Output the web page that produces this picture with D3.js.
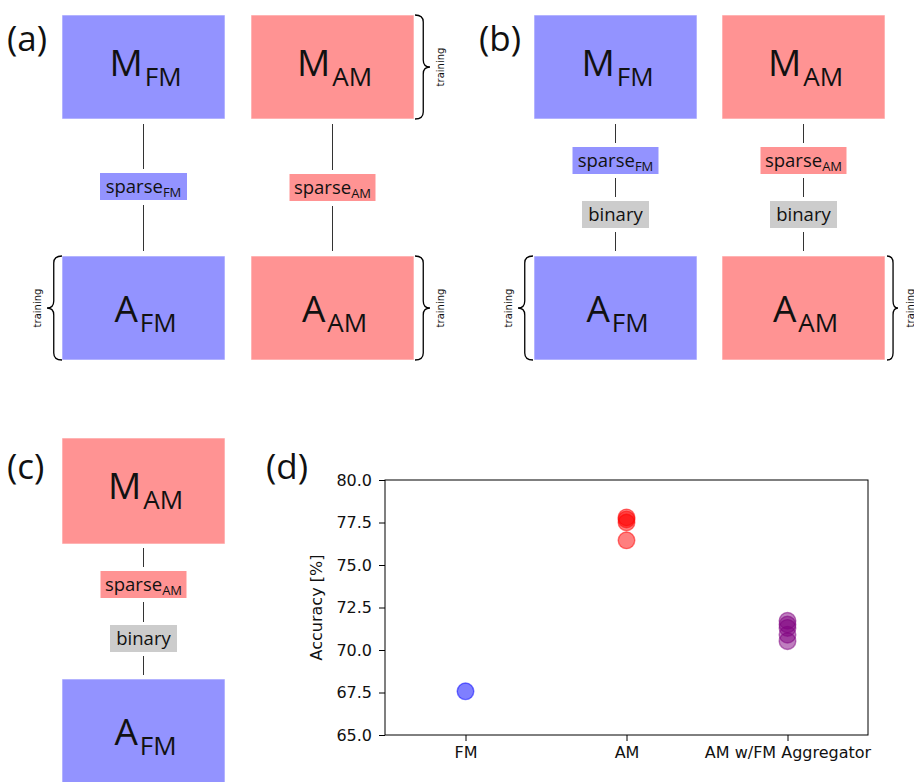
<!DOCTYPE html>
<html>
<head>
<meta charset="utf-8">
<script src="https://cdn.jsdelivr.net/npm/d3@7"></script>
<style>
  html, body { margin: 0; padding: 0; background: #fff; }
  svg { display: block; }
</style>
</head>
<body>
<svg id="fig" width="914" height="782"></svg>
<script>
// ---- accuracy results for panel (d) ----
const categories = ["FM", "AM", "AM w/FM Aggregator"];
const fmAccuracy = [67.57];
const amAccuracy = [77.8, 77.68, 77.5, 76.45];
const aggregatorAccuracy = [71.72, 71.5, 71.3, 70.9, 70.52];
const yTicks = [65.0, 67.5, 70.0, 72.5, 75.0, 77.5, 80.0];
const yLabel = "Accuracy [%]";

const seriesColors = { "FM": "blue", "AM": "red", "AM w/FM Aggregator": "purple" };
const boxColors = { FM: "#9393ff", AM: "#ff9393", gray: "#cccccc" };

const svg = d3.select("#fig");
const uiFont = "'Open Sans', 'Noto Sans', sans-serif";
const axisFont = "'DejaVu Sans', sans-serif";

// ---- diagram helpers ----
function modelBox(x, y, w, h, kind, letter, sub, baseOff) {
  const g = svg.append("g");
  g.append("rect").attr("x", x).attr("y", y).attr("width", w).attr("height", h)
    .attr("fill", boxColors[kind]).attr("stroke", "#ffffff").attr("stroke-opacity", 0.6).attr("stroke-width", 1);
  const t = g.append("text").attr("x", x + w / 2 + 2).attr("y", y + baseOff)
    .attr("text-anchor", "middle").attr("font-family", uiFont).attr("fill", "#111");
  t.append("tspan").attr("font-size", 37).text(letter);
  t.append("tspan").attr("font-size", 26).attr("dy", 10).attr("dx", 2).text(sub);
}

function tagBox(cx, y, w, kind, main, sub) {
  const h = 27;
  svg.append("rect").attr("x", cx - w / 2).attr("y", y).attr("width", w).attr("height", h)
    .attr("fill", boxColors[kind]);
  const t = svg.append("text").attr("x", cx).attr("y", y + 19.5)
    .attr("text-anchor", "middle").attr("font-family", uiFont).attr("fill", "#111");
  t.append("tspan").attr("font-size", 18.5).text(main);
  if (sub) t.append("tspan").attr("font-size", 13).attr("dy", 4).text(sub);
}

function vline(x, y0, y1) {
  svg.append("line").attr("x1", x).attr("x2", x).attr("y1", y0).attr("y2", y1)
    .attr("stroke", "#333").attr("stroke-width", 1);
}

// curly brace spanning y0..y1; tips at xt, point at xp
function brace(xt, xp, y0, y1, textX) {
  const ym = (y0 + y1) / 2;
  const xb = xt + (xp - xt) * 0.55;
  const q = 7;
  const p = d3.path();
  p.moveTo(xt, y0);
  p.quadraticCurveTo(xb, y0, xb, y0 + q);
  p.lineTo(xb, ym - q);
  p.quadraticCurveTo(xb, ym, xp, ym);
  p.quadraticCurveTo(xb, ym, xb, ym + q);
  p.lineTo(xb, y1 - q);
  p.quadraticCurveTo(xb, y1, xt, y1);
  svg.append("path").attr("d", p.toString()).attr("fill", "none")
    .attr("stroke", "#000").attr("stroke-width", 1.3);
  svg.append("text").attr("transform", `translate(${textX},${ym}) rotate(-90)`)
    .attr("text-anchor", "middle").attr("dominant-baseline", "central")
    .attr("font-family", axisFont).attr("font-size", 10).attr("fill", "#111").text("training");
}

function panelLabel(x, y, s) {
  svg.append("text").attr("x", x).attr("y", y).attr("font-family", uiFont)
    .attr("font-size", 35).attr("fill", "#111").text(s);
}

const BW = 163, BH = 104;

// ---- panel (a) ----
panelLabel(7, 51, "(a)");
modelBox(62, 15, BW, BH, "FM", "M", "FM", 61);
modelBox(251, 15, BW, BH, "AM", "M", "AM", 61);
modelBox(62, 256, BW, BH, "FM", "A", "FM", 66);
modelBox(251, 256, BW, BH, "AM", "A", "AM", 66);
vline(143.5, 124, 169); vline(143.5, 205, 251);
vline(332.5, 124, 170); vline(332.5, 206, 251);
tagBox(143.5, 173, 87, "FM", "sparse", "FM");
tagBox(332.5, 174, 86, "AM", "sparse", "AM");
brace(415, 430, 15, 119, 440);
brace(62, 47, 256, 360, 37);
brace(415, 430, 256, 360, 440);

// ---- panel (b) ----
panelLabel(479, 51, "(b)");
modelBox(534, 15, BW, BH, "FM", "M", "FM", 61);
modelBox(722, 15, BW, BH, "AM", "M", "AM", 61);
modelBox(534, 256, BW, BH, "FM", "A", "FM", 66);
modelBox(722, 256, BW, BH, "AM", "A", "AM", 66);
[615.5, 803.5].forEach(cx => { vline(cx, 124, 143); vline(cx, 178, 197); vline(cx, 232, 251); });
tagBox(615.5, 147, 86, "FM", "sparse", "FM");
tagBox(803.5, 147, 86, "AM", "sparse", "AM");
tagBox(615.5, 201, 67, "gray", "binary");
tagBox(803.5, 201, 67, "gray", "binary");
brace(533, 518, 256, 360, 508);
brace(887, 898, 256, 360, 910);

// ---- panel (c) ----
panelLabel(7, 479, "(c)");
modelBox(62, 438, BW, 106, "AM", "M", "AM", 61);
modelBox(62, 679, BW, BH, "FM", "A", "FM", 66);
vline(143.5, 548, 567); vline(143.5, 602, 622); vline(143.5, 656, 675);
tagBox(143.5, 571, 86, "AM", "sparse", "AM");
tagBox(143.5, 625, 67, "gray", "binary");

// ---- panel (d): accuracy scatter ----
panelLabel(266, 479, "(d)");
const plot = { left: 385, right: 868, top: 480, bottom: 735 };
const x = d3.scaleLinear().domain([-0.5, 2.5]).range([plot.left, plot.right]);
const y = d3.scaleLinear().domain([65, 80]).range([plot.bottom, plot.top]);

const pg = svg.append("g");
const series = [
  { name: categories[0], values: fmAccuracy },
  { name: categories[1], values: amAccuracy },
  { name: categories[2], values: aggregatorAccuracy }
];
series.forEach((s, i) => {
  pg.selectAll(null).data(s.values).enter().append("circle")
    .attr("cx", x(i)).attr("cy", d => y(d)).attr("r", 8.3)
    .attr("fill", seriesColors[s.name]).attr("fill-opacity", 0.5)
    .attr("stroke", seriesColors[s.name]).attr("stroke-opacity", 0.5).attr("stroke-width", 1.4);
});

// frame
svg.append("rect").attr("x", plot.left).attr("y", plot.top)
  .attr("width", plot.right - plot.left).attr("height", plot.bottom - plot.top)
  .attr("fill", "none").attr("stroke", "#000").attr("stroke-width", 1);

const yAxis = d3.axisLeft(y).tickValues(yTicks).tickFormat(d3.format(".1f")).tickSize(6).tickPadding(7);
const yg = svg.append("g").attr("transform", `translate(${plot.left},0)`).call(yAxis);
const xAxis = d3.axisBottom(x).tickValues([0, 1, 2]).tickFormat(i => categories[i]).tickSize(6).tickPadding(6);
const xg = svg.append("g").attr("transform", `translate(0,${plot.bottom})`).call(xAxis);
[yg, xg].forEach(g => {
  g.select(".domain").remove();
  g.selectAll("line").attr("stroke", "#000");
  g.selectAll("text").attr("font-family", axisFont).attr("font-size", 16).attr("fill", "#111");
});

svg.append("text").attr("transform", `translate(316,${(plot.top + plot.bottom) / 2}) rotate(-90)`)
  .attr("text-anchor", "middle").attr("dominant-baseline", "central")
  .attr("font-family", axisFont).attr("font-size", 16).attr("fill", "#111").text(yLabel);
</script>
</body>
</html>
